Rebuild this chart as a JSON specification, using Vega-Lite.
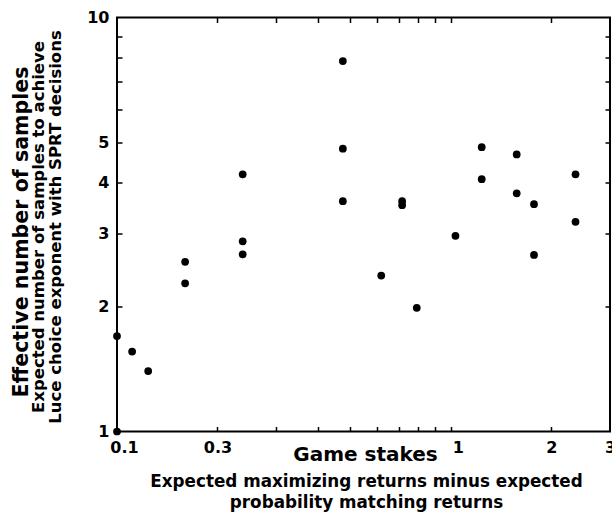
{
  "$schema": "https://vega.github.io/schema/vega-lite/v6.json",
  "width": 493,
  "height": 414,
  "autosize": {"type": "none"},
  "padding": {"left": 117, "top": 17.5, "right": 2, "bottom": 81.5},
  "background": "white",
  "config": {
    "view": {"stroke": "#000", "strokeWidth": 2},
    "font": "DejaVu Sans",
    "axis": {
      "grid": false,
      "domain": false,
      "labelFont": "DejaVu Sans",
      "labelFontWeight": "bold",
      "labelColor": "#000",
      "titleFont": "DejaVu Sans",
      "titleFontWeight": "bold",
      "titleColor": "#000",
      "tickColor": "#000",
      "tickWidth": 1.5,
      "tickOpacity": 1,
      "labelOverlap": false,
      "labelBound": false,
      "labelFlush": false
    }
  },
  "data": {
    "values": [
      {"stakes": 0.1, "samples": 1.0},
      {"stakes": 0.1, "samples": 1.70},
      {"stakes": 0.111, "samples": 1.56},
      {"stakes": 0.124, "samples": 1.40},
      {"stakes": 0.16, "samples": 2.57},
      {"stakes": 0.16, "samples": 2.28},
      {"stakes": 0.238, "samples": 4.18},
      {"stakes": 0.238, "samples": 2.88},
      {"stakes": 0.238, "samples": 2.68},
      {"stakes": 0.475, "samples": 7.85},
      {"stakes": 0.475, "samples": 4.82},
      {"stakes": 0.475, "samples": 3.60},
      {"stakes": 0.715, "samples": 3.60},
      {"stakes": 0.715, "samples": 3.52},
      {"stakes": 0.619, "samples": 2.38},
      {"stakes": 0.791, "samples": 1.99},
      {"stakes": 1.033, "samples": 2.97},
      {"stakes": 1.238, "samples": 4.86},
      {"stakes": 1.238, "samples": 4.07},
      {"stakes": 1.576, "samples": 4.67},
      {"stakes": 1.576, "samples": 3.76},
      {"stakes": 1.776, "samples": 3.54},
      {"stakes": 1.776, "samples": 2.67},
      {"stakes": 2.365, "samples": 4.18},
      {"stakes": 2.365, "samples": 3.21}
    ]
  },
  "resolve": {"axis": {"x": "independent", "y": "independent"}},
  "layer": [
    {
      "mark": {"type": "point", "filled": true, "color": "#000", "opacity": 1, "size": 60},
      "encoding": {
        "x": {
          "field": "stakes",
          "type": "quantitative",
          "scale": {"type": "log", "domain": [0.1, 3], "nice": false},
          "axis": {
            "orient": "bottom",
            "values": [0.1, 0.2, 1, 2, 3],
            "labelExpr": "datum.value == 0.1 ? '0.1' : datum.value == 0.2 ? '0.3' : datum.value == 1 ? '1' : datum.value == 2 ? '2' : datum.value == 3 ? '3' : ''",
            "labelOffset": {"condition": {"test": "datum.value == 0.1 || datum.value == 1", "value": 7}, "value": 0},
            "ticks": false,
            "labelPadding": 7.5,
            "labelFontSize": 16,
            "labelAngle": 0,
            "title": "Game stakes",
            "titleFontSize": 20,
            "titleX": 248,
            "titleY": 29,
            "titleAlign": "center",
            "titleBaseline": "alphabetic"
          }
        },
        "y": {
          "field": "samples",
          "type": "quantitative",
          "scale": {"type": "log", "domain": [1, 10], "nice": false},
          "axis": {
            "orient": "left",
            "values": [1, 2, 3, 4, 5, 10],
            "labelExpr": "'' + datum.value",
            "ticks": false,
            "labelPadding": 8,
            "labelFontSize": 16,
            "title": "Effective number of samples",
            "titleFontSize": 20.6,
            "titleAngle": 270,
            "titleX": -90,
            "titleY": 214,
            "titleAlign": "center",
            "titleBaseline": "alphabetic"
          }
        }
      }
    },
    {
      "mark": {"type": "point", "filled": true, "opacity": 0, "size": 1},
      "encoding": {
        "x": {
          "field": "stakes",
          "type": "quantitative",
          "scale": {"type": "log", "domain": [0.1, 3], "nice": false},
          "axis": {
            "orient": "bottom",
            "labels": false,
            "ticks": false,
            "domain": false,
            "title": ["Expected maximizing returns minus expected", "probability matching returns"],
            "titleFontSize": 16.8,
            "titleLineHeight": 21.5,
            "titleX": 249,
            "titleY": 54.5,
            "titleAlign": "center",
            "titleBaseline": "alphabetic"
          }
        },
        "y": {
          "field": "samples",
          "type": "quantitative",
          "scale": {"type": "log", "domain": [1, 10], "nice": false},
          "axis": {
            "orient": "left",
            "labels": false,
            "ticks": false,
            "domain": false,
            "title": ["Expected number of samples to achieve", "Luce choice exponent with SPRT decisions"],
            "titleFontSize": 16.5,
            "titleLineHeight": 16.7,
            "titleAngle": 270,
            "titleX": -73.2,
            "titleY": 209,
            "titleAlign": "center",
            "titleBaseline": "alphabetic"
          }
        }
      }
    },
    {
      "mark": {"type": "point", "filled": true, "opacity": 0, "size": 1},
      "encoding": {
        "x": {
          "field": "stakes",
          "type": "quantitative",
          "scale": {"type": "log", "domain": [0.1, 3], "nice": false},
          "axis": {
            "orient": "top",
            "values": [0.2, 0.3, 0.4, 0.5, 0.6, 0.7, 0.8, 0.9, 1, 2],
            "labels": false,
            "ticks": true,
            "tickSize": 5,
            "offset": -5,
            "domain": false,
            "title": null
          }
        },
        "y": {
          "field": "samples",
          "type": "quantitative",
          "scale": {"type": "log", "domain": [1, 10], "nice": false},
          "axis": {
            "orient": "right",
            "values": [2, 3, 4, 5, 6, 7, 8, 9],
            "labels": false,
            "ticks": true,
            "tickSize": 5,
            "offset": -5,
            "domain": false,
            "title": null
          }
        }
      }
    },
    {
      "mark": {"type": "point", "filled": true, "opacity": 0, "size": 1},
      "encoding": {
        "x": {
          "field": "stakes",
          "type": "quantitative",
          "scale": {"type": "log", "domain": [0.1, 3], "nice": false},
          "axis": {
            "orient": "bottom",
            "values": [0.2, 0.3, 0.4, 0.5, 0.6, 0.7, 0.8, 0.9, 1, 2],
            "labels": false,
            "ticks": true,
            "tickSize": 5,
            "offset": -5,
            "domain": false,
            "title": null
          }
        },
        "y": {
          "field": "samples",
          "type": "quantitative",
          "scale": {"type": "log", "domain": [1, 10], "nice": false},
          "axis": {
            "orient": "left",
            "values": [2, 3, 4, 5, 6, 7, 8, 9],
            "labels": false,
            "ticks": true,
            "tickSize": 5,
            "offset": -5,
            "domain": false,
            "title": null
          }
        }
      }
    }
  ]
}
